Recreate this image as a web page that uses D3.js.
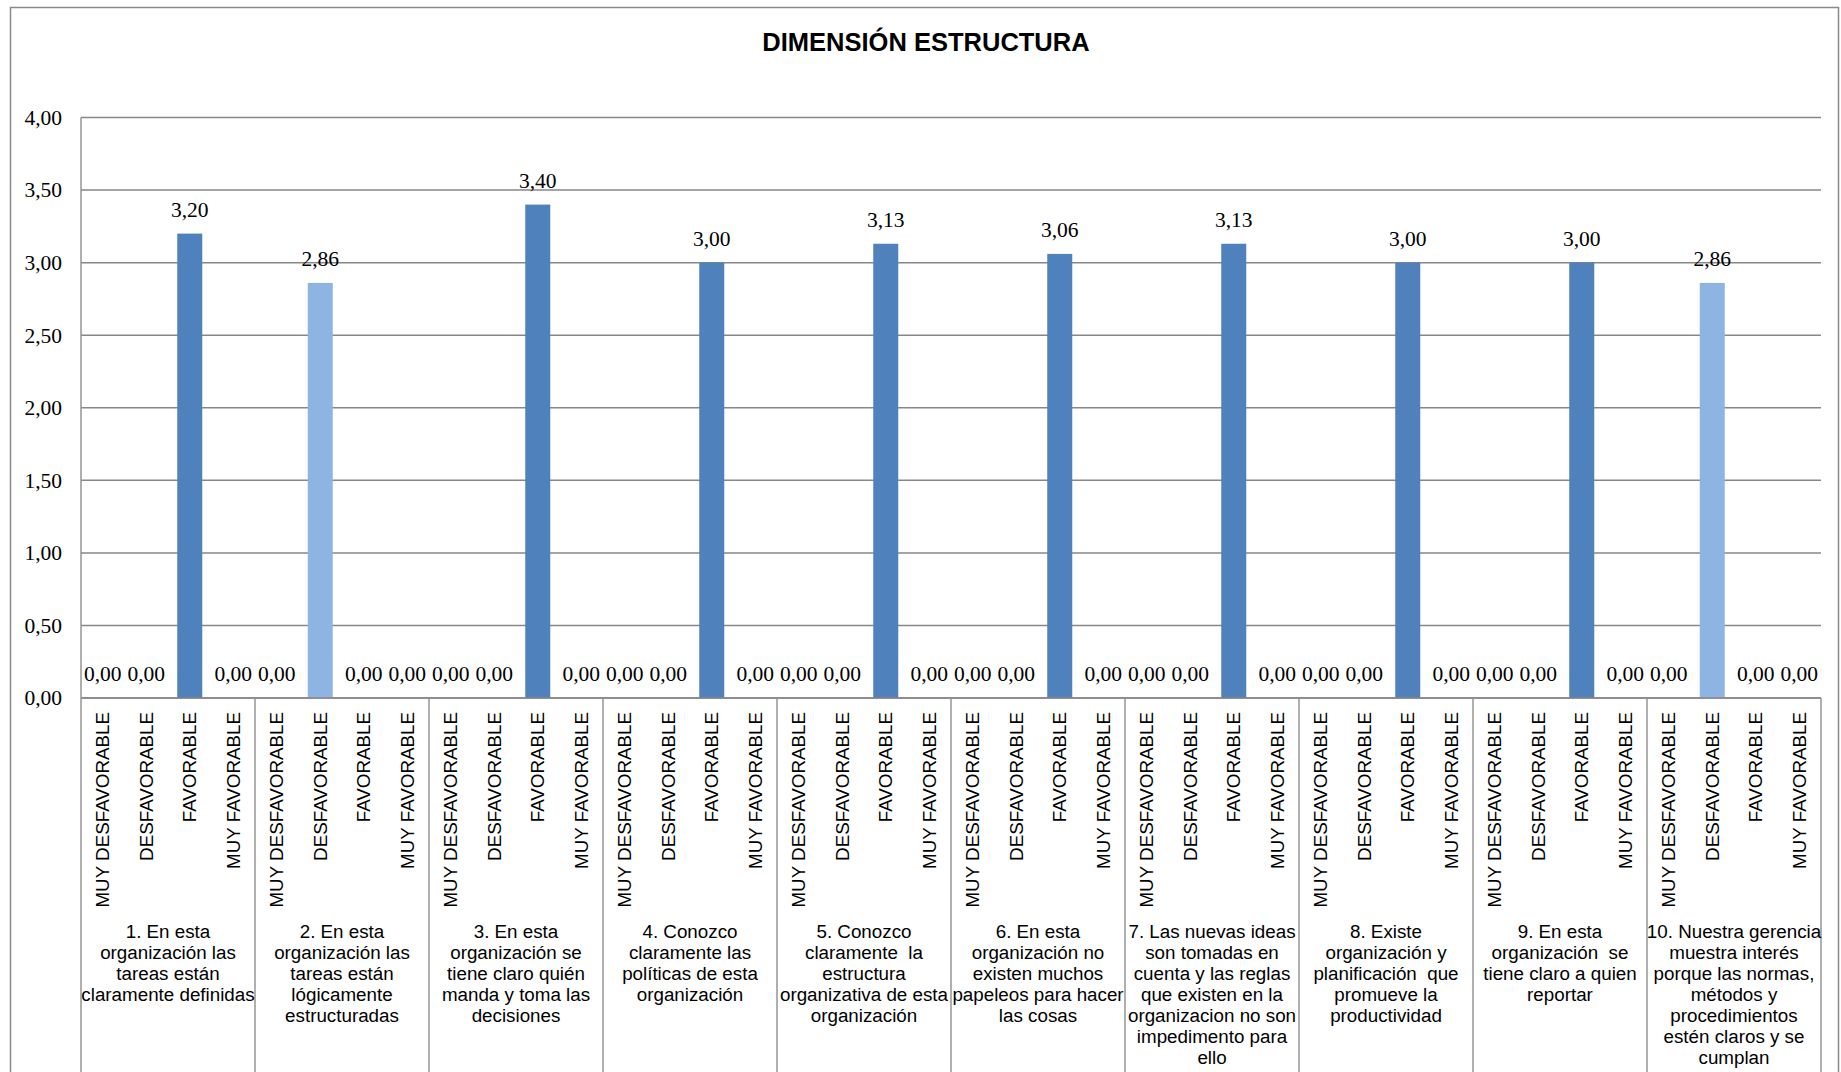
<!DOCTYPE html>
<html>
<head>
<meta charset="utf-8">
<script src="https://cdn.jsdelivr.net/npm/d3@7"></script>
<style>
  html, body { margin: 0; padding: 0; background: #fff; }
  svg { display: block; }
</style>
</head>
<body>
<svg id="chart" width="1841" height="1072"></svg>
<script>
const title = "DIMENSIÓN ESTRUCTURA";
const categories = ["MUY DESFAVORABLE", "DESFAVORABLE", "FAVORABLE", "MUY FAVORABLE"];
const categoryColors = ["#4F81BD", "#8EB4E3", "#4F81BD", "#4F81BD"];
const groupLabels = [
  ["1. En esta", "organización las", "tareas están", "claramente definidas"],
  ["2. En esta", "organización las", "tareas están", "lógicamente", "estructuradas"],
  ["3. En esta", "organización se", "tiene claro quién", "manda y toma las", "decisiones"],
  ["4. Conozco", "claramente las", "políticas de esta", "organización"],
  ["5. Conozco", "claramente  la", "estructura", "organizativa de esta", "organización"],
  ["6. En esta", "organización no", "existen muchos", "papeleos para hacer", "las cosas"],
  ["7. Las nuevas ideas", "son tomadas en", "cuenta y las reglas", "que existen en la", "organizacion no son", "impedimento para", "ello"],
  ["8. Existe", "organización y", "planificación  que", "promueve la", "productividad"],
  ["9. En esta", "organización  se", "tiene claro a quien", "reportar"],
  ["10. Nuestra gerencia", "muestra interés", "porque las normas,", "métodos y", "procedimientos", "estén claros y se", "cumplan"]
];
const groupValues = [
  [0, 0, 3.20, 0],
  [0, 2.86, 0, 0],
  [0, 0, 3.40, 0],
  [0, 0, 3.00, 0],
  [0, 0, 3.13, 0],
  [0, 0, 3.06, 0],
  [0, 0, 3.13, 0],
  [0, 0, 3.00, 0],
  [0, 0, 3.00, 0],
  [0, 2.86, 0, 0]
];
const yTicks = [0, 0.5, 1, 1.5, 2, 2.5, 3, 3.5, 4];

// flatten into bars
const bars = [];
groupValues.forEach((vals, g) => {
  vals.forEach((v, c) => bars.push({ key: g + "-" + c, g, c, value: v }));
});

const svg = d3.select("#chart");
const W = 1841, H = 1072;
const plotL = 81, plotR = 1821, plotT = 117.5, plotB = 698;
const gridColor = "#878787";
const lineColor = "#959595";
const fmt = v => d3.format(".2f")(v).replace(".", ",");

svg.append("rect").attr("width", W).attr("height", H).attr("fill", "#fff");

// outer chart border
svg.append("rect")
  .attr("x", 10.5).attr("y", 7.5)
  .attr("width", 1828).attr("height", H + 20)
  .attr("fill", "none").attr("stroke", "#8a8a8a").attr("stroke-width", 1.5);

// title
svg.append("text")
  .attr("x", 926).attr("y", 51)
  .attr("text-anchor", "middle")
  .attr("font-family", "Liberation Sans, Arial, sans-serif")
  .attr("font-weight", "bold")
  .attr("font-size", 25.5)
  .attr("fill", "#000")
  .text(title);

const x = d3.scaleBand()
  .domain(bars.map(d => d.key))
  .range([plotL, plotR])
  .paddingInner(0.425)
  .paddingOuter(0.2125);

const y = d3.scaleLinear().domain([0, 4]).range([plotB, plotT]);

// gridlines
svg.append("g")
  .selectAll("line")
  .data(yTicks)
  .join("line")
  .attr("x1", plotL).attr("x2", plotR)
  .attr("y1", d => y(d)).attr("y2", d => y(d))
  .attr("stroke", gridColor).attr("stroke-width", 1.5);

// y axis tick labels
const yAxis = d3.axisLeft(y).tickValues(yTicks).tickFormat(fmt).tickSize(0).tickPadding(19);
const yg = svg.append("g").attr("transform", `translate(${plotL},0)`).call(yAxis);
yg.select(".domain").remove();
yg.selectAll("text")
  .attr("font-family", "Liberation Serif, Times New Roman, serif")
  .attr("font-size", 21.5)
  .attr("fill", "#000");

// bars
svg.append("g")
  .selectAll("rect")
  .data(bars)
  .join("rect")
  .attr("x", d => x(d.key))
  .attr("width", x.bandwidth())
  .attr("y", d => y(d.value))
  .attr("height", d => y(0) - y(d.value))
  .attr("fill", d => categoryColors[d.c]);

// value labels
svg.append("g")
  .selectAll("text")
  .data(bars)
  .join("text")
  .attr("x", d => x(d.key) + x.bandwidth() / 2)
  .attr("y", d => y(d.value) - 17)
  .attr("text-anchor", "middle")
  .attr("font-family", "Liberation Serif, Times New Roman, serif")
  .attr("font-size", 21.5)
  .attr("fill", "#000")
  .text(d => fmt(d.value));

// x axis line (baseline)
svg.append("line")
  .attr("x1", plotL).attr("x2", plotR)
  .attr("y1", y(0)).attr("y2", y(0))
  .attr("stroke", gridColor).attr("stroke-width", 1.5);

// y axis line
svg.append("line")
  .attr("x1", plotL).attr("x2", plotL)
  .attr("y1", plotT).attr("y2", H)
  .attr("stroke", lineColor).attr("stroke-width", 1.5);

// group separators
const groupEdge = g => g < groupValues.length
  ? x(g + "-0") - x.step() * x.paddingOuter()
  : plotR;
svg.append("g")
  .selectAll("line")
  .data(d3.range(1, groupValues.length + 1))
  .join("line")
  .attr("x1", d => groupEdge(d)).attr("x2", d => groupEdge(d))
  .attr("y1", y(0)).attr("y2", H)
  .attr("stroke", lineColor).attr("stroke-width", 1.5);

// rotated category labels
svg.append("g")
  .selectAll("text")
  .data(bars)
  .join("text")
  .attr("transform", d => `translate(${x(d.key) + x.bandwidth() / 2},712) rotate(-90)`)
  .attr("dy", "0.35em")
  .attr("text-anchor", "end")
  .attr("font-family", "Liberation Sans, Arial, sans-serif")
  .attr("font-size", 18.8)
  .attr("fill", "#000")
  .text(d => categories[d.c]);

// group labels
const gl = svg.append("g");
groupLabels.forEach((lines, g) => {
  const cx = (x(g + "-0") + x(g + "-3") + x.bandwidth()) / 2;
  const t = gl.append("text")
    .attr("text-anchor", "middle")
    .attr("font-family", "Liberation Sans, Arial, sans-serif")
    .attr("font-size", 18.8)
    .attr("fill", "#000")
    .attr("xml:space", "preserve")
    .style("white-space", "pre");
  lines.forEach((ln, i) => {
    t.append("tspan").attr("x", cx).attr("y", 938 + 21 * i).text(ln);
  });
});
</script>
</body>
</html>
